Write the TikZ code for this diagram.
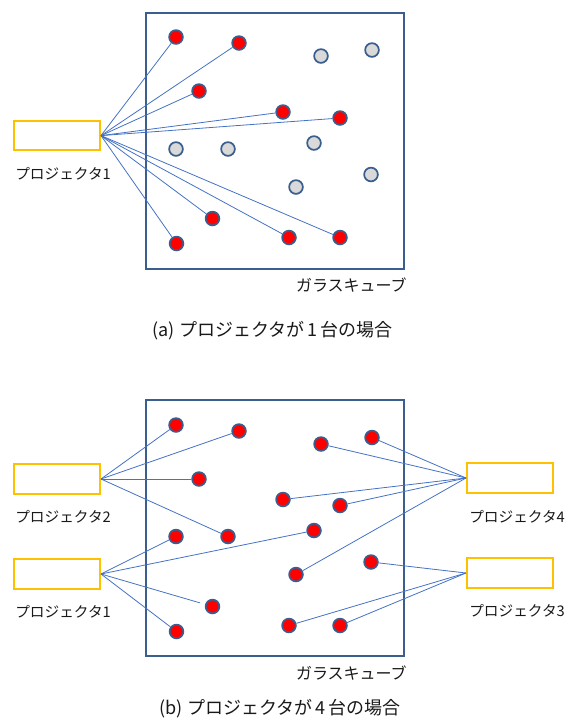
\documentclass[tikz,border=0pt]{standalone}
\usepackage{fontspec}
\setmainfont{Noto Sans CJK JP}
\begin{document}
\begin{tikzpicture}[x=0.75pt,y=-0.75pt,
  cube/.style={draw=boxblue,line width=1.5pt},
  proj/.style={draw=projgold,line width=1.5pt,fill=white,minimum width=64.5pt,minimum height=22pt,inner sep=0pt},
  reddot/.style={circle,draw=dotblue,line width=1.3pt,fill=red,minimum size=10.3pt,inner sep=0pt},
  graydot/.style={circle,draw=dotblue,line width=1.3pt,fill=dotgray,minimum size=10.3pt,inner sep=0pt},
  ray/.style={draw=rayblue,line width=0.6pt},
  lbl/.style={font=\fontsize{11pt}{13pt}\selectfont,text=black!90,inner sep=0pt},
  glbl/.style={font=\fontsize{12pt}{14pt}\selectfont,text=black!90,inner sep=0pt},
  captext/.style={font=\fontsize{13.5pt}{16pt}\selectfont,text=black!90,inner sep=0pt}]
\definecolor{boxblue}{HTML}{3A5F8F}
\definecolor{dotblue}{HTML}{3A5F8F}
\definecolor{projgold}{HTML}{FFC000}
\definecolor{rayblue}{HTML}{4472C4}
\definecolor{dotgray}{HTML}{D9D9D9}
\useasboundingbox (0,0) rectangle (569,719);

% ---------- (a) ----------
\node[cube,minimum width=193.5pt,minimum height=192pt,inner sep=0pt] (cubeA) at (274.5,140.75) {};
\node[proj] (pa1) at (57,135.6) {};
\node[lbl,anchor=west] (la1) at (15,173.5) {プロジェクタ1};
\node[glbl,anchor=east] (ga) at (407,285) {ガラスキューブ};
\node[captext] (capA) at (272.5,331) {(a) プロジェクタが\,1\,台の場合};

\node[reddot] (a1) at (176,37) {};
\node[reddot] (a2) at (239,43) {};
\node[graydot] (a3) at (321,56) {};
\node[graydot] (a4) at (372,50) {};
\node[reddot] (a5) at (199,91) {};
\node[reddot] (a6) at (283,112) {};
\node[reddot] (a7) at (340,118) {};
\node[graydot] (a8) at (176,149) {};
\node[graydot] (a9) at (228,149) {};
\node[graydot] (a10) at (314,143) {};
\node[graydot] (a11) at (296,187) {};
\node[graydot] (a12) at (371,174.5) {};
\node[reddot] (a13) at (212.5,218.5) {};
\node[reddot] (a14) at (176.5,243.5) {};
\node[reddot] (a15) at (289,237.5) {};
\node[reddot] (a16) at (340,237.5) {};

\foreach \d in {a1,a2,a5,a6,a7,a13,a14,a15,a16}
  \draw[ray] (pa1.east) -- (\d);

% ---------- (b) ----------
\node[cube,minimum width=193.5pt,minimum height=192pt,inner sep=0pt] (cubeB) at (274.5,528) {};
\node[proj] (pb2) at (57,479) {};
\node[proj] (pb1) at (57,574) {};
\node[proj] (pb4) at (510,478) {};
\node[proj] (pb3) at (510,573) {};
\node[lbl,anchor=west] (lb2) at (15,517) {プロジェクタ2};
\node[lbl,anchor=west] (lb1) at (15,611.5) {プロジェクタ1};
\node[lbl,anchor=west] (lb4) at (469,517) {プロジェクタ4};
\node[lbl,anchor=west] (lb3) at (469,611) {プロジェクタ3};
\node[glbl,anchor=east] (gb) at (407,673) {ガラスキューブ};
\node[captext] (capB) at (280,708.5) {(b) プロジェクタが\,4\,台の場合};

\node[reddot] (b1) at (176,425) {};
\node[reddot] (b2) at (239,431) {};
\node[reddot] (b3) at (321,444) {};
\node[reddot] (b4) at (372,437.5) {};
\node[reddot] (b5) at (199,479) {};
\node[reddot] (b6) at (283,499.5) {};
\node[reddot] (b7) at (340,505.5) {};
\node[reddot] (b8) at (176,536.5) {};
\node[reddot] (b9) at (228,536.5) {};
\node[reddot] (b10) at (314,530.5) {};
\node[reddot] (b11) at (296,574.5) {};
\node[reddot] (b12) at (371,562) {};
\node[reddot] (b13) at (212.5,606.5) {};
\node[reddot] (b14) at (176.5,631.5) {};
\node[reddot] (b15) at (289,625.5) {};
\node[reddot] (b16) at (340,625.5) {};

\foreach \d in {b1,b2,b5,b9}
  \draw[ray] (pb2.east) -- (\d);
\foreach \d in {b8,b10,b14}
  \draw[ray] (pb1.east) -- (\d);
\draw[ray,shorten >=4pt] (pb1.east) -- (b13);
\foreach \d in {b4,b3,b6,b7,b11}
  \draw[ray] (pb4.west) -- (\d);
\foreach \d in {b12,b15,b16}
  \draw[ray] (pb3.west) -- (\d);
\end{tikzpicture}
\end{document}
